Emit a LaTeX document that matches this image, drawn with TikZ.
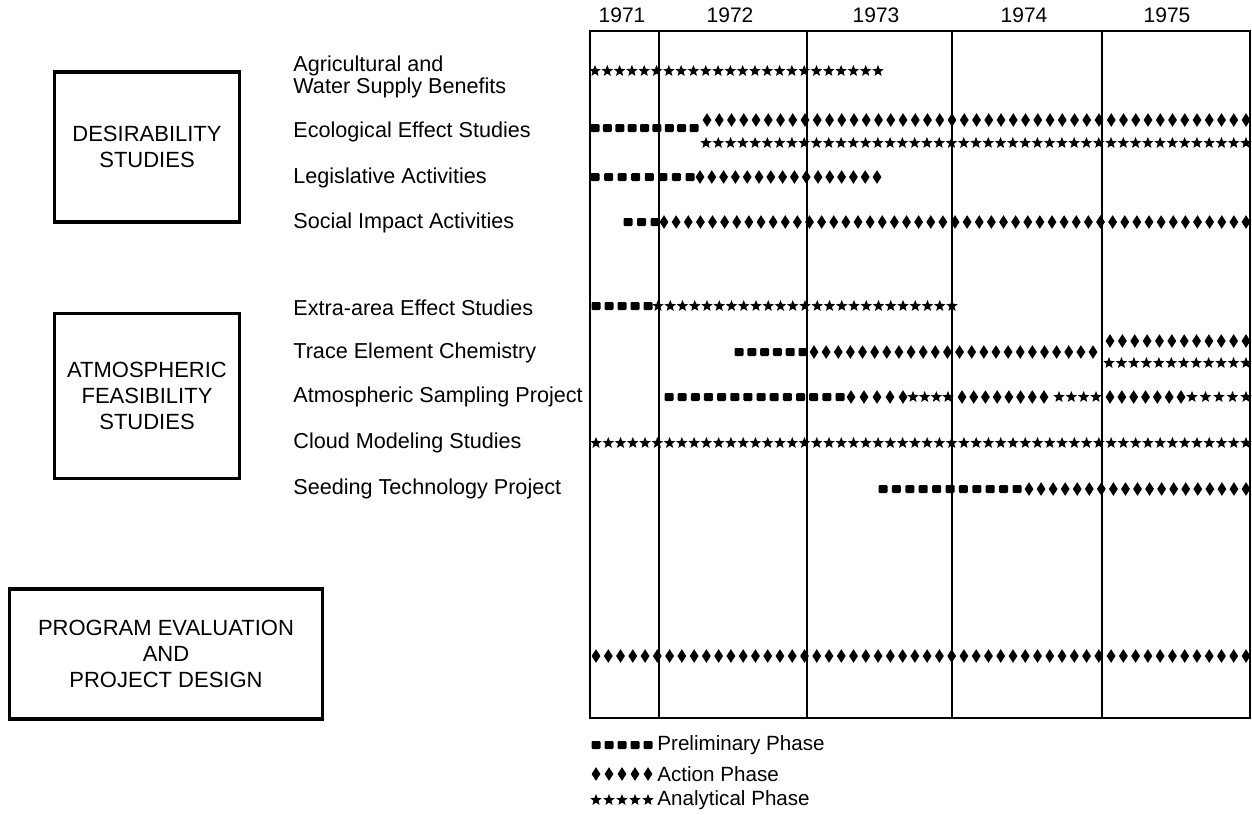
\documentclass[tikz,border=0pt]{standalone}
\usepackage{fontspec}
\setmainfont{Liberation Sans}
\tikzset{
  box/.style={draw, line width=1.6pt, align=center, inner sep=0pt,
    font=\fontsize{11}{13}\selectfont},
  lab/.style={anchor=west, align=left, inner sep=0pt,
    font=\fontsize{10.8}{11}\selectfont},
  yr/.style={inner sep=0pt, font=\fontsize{10.5}{12}\selectfont},
  key/.style={anchor=west, inner sep=0pt, font=\fontsize{10.3}{12}\selectfont},
}
% rows of phase marks: first x, last x, y
\newcommand{\prelimrow}[3]{%
  \pgfmathtruncatemacro{\nsym}{max(1,round((#2-#1)/13))}%
  \pgfmathsetmacro{\stp}{(#2-#1)/\nsym}%
  \foreach \i in {0,...,\nsym}
    \fill[rounded corners=0.6pt] ({#1+\i*\stp},#3) +(-4.5,-4) rectangle +(4.5,4);
}
\newcommand{\actionrow}[3]{%
  \pgfmathtruncatemacro{\nsym}{max(1,round((#2-#1)/12.2))}%
  \pgfmathsetmacro{\stp}{(#2-#1)/\nsym}%
  \foreach \i in {0,...,\nsym}
    \fill ({#1+\i*\stp},#3) +(0,-6.8) -- +(4.4,0) -- +(0,6.8) -- +(-4.4,0) -- cycle;
}
\newcommand{\analrow}[3]{%
  \pgfmathtruncatemacro{\nsym}{max(1,round((#2-#1)/12.2))}%
  \pgfmathsetmacro{\stp}{(#2-#1)/\nsym}%
  \foreach \i in {0,...,\nsym}
    \fill ({#1+\i*\stp},#3) +(-90:6) -- +(-54:2.6) -- +(-18:6) -- +(18:2.6)
      -- +(54:6) -- +(90:2.6) -- +(126:6) -- +(162:2.6) -- +(198:6) -- +(234:2.6) -- cycle;
}
\begin{document}
\begin{tikzpicture}[x=0.5pt,y=-0.5pt]
\useasboundingbox (0,0) rectangle (1252,814);

% time frame
\draw[line width=1pt] (590,31) rectangle (1250,718);
\foreach \x in {659,807,952,1102}
  \draw[line width=1pt] (\x,31)--(\x,718);
\foreach \x/\y in {622/1971,730/1972,876/1973,1024/1974,1167/1975}
  \node[yr] (y\y) at (\x,15) {\y};

% group boxes
\node[box, minimum width=92.5pt, minimum height=75pt] (desir) at (147,147) {DESIRABILITY\\STUDIES};
\node[box, minimum width=92.5pt, minimum height=82.5pt] (atmfeas) at (147,396) {ATMOSPHERIC\\FEASIBILITY\\STUDIES};
\node[box, minimum width=156.5pt, minimum height=65pt] (progeval) at (166,654) {PROGRAM EVALUATION\\AND\\PROJECT DESIGN};

% activity names
\node[lab] (agri) at (293,77) {Agricultural and\\Water Supply Benefits};
\node[lab] (ecol) at (293,132) {Ecological Effect Studies};
\node[lab] (legis) at (293,178) {Legislative Activities};
\node[lab] (social) at (293,223) {Social Impact Activities};
\node[lab] (extra) at (293,308) {Extra-area Effect Studies};
\node[lab] (trace) at (293,353) {Trace Element Chemistry};
\node[lab] (atmos) at (293,397) {Atmospheric Sampling Project};
\node[lab] (cloud) at (293,443) {Cloud Modeling Studies};
\node[lab] (seed) at (293,489) {Seeding Technology Project};

% desirability studies
\analrow{595}{878}{71}
\prelimrow{595}{694}{128}
\actionrow{707}{1246}{120}
\analrow{706}{1246}{143}
\prelimrow{595}{690}{177}
\actionrow{700}{877}{177}
\prelimrow{628}{655}{222}
\actionrow{664}{1246}{222}

% atmospheric feasibility studies
\prelimrow{596}{648}{306}
\analrow{658}{952}{306}
\prelimrow{739}{803}{352}
\actionrow{814}{1093}{352}
\actionrow{1110}{1246}{341}
\analrow{1109}{1246}{363}
\prelimrow{669}{840}{397}
\actionrow{851}{903}{397}
\analrow{913}{948}{397}
\actionrow{962}{1044}{397}
\analrow{1059}{1096}{397}
\actionrow{1110}{1181}{397}
\analrow{1192}{1246}{397}
\analrow{596}{1246}{443}
\prelimrow{883}{1017}{489}
\actionrow{1029}{1246}{489}

% program evaluation
\actionrow{596}{1246}{656}

% legend
\prelimrow{596}{648}{745}
\actionrow{596}{648}{774}
\analrow{596}{648}{800}
\node[key] (kprelim) at (657,745) {Preliminary Phase};
\node[key] (kaction) at (657,774) {Action Phase};
\node[key] (kanal) at (657,800) {Analytical Phase};
\end{tikzpicture}
\end{document}
